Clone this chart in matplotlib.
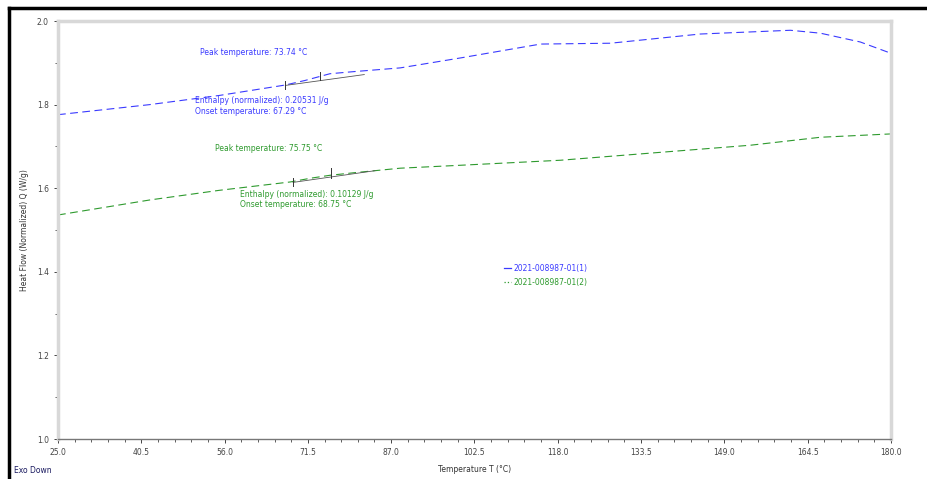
import matplotlib.pyplot as plt
from matplotlib.lines import Line2D
from matplotlib.ticker import AutoMinorLocator

# curve data
temp1 = [25.0, 42.0, 55.0, 67.3, 71.0, 75.6, 80.0, 88.7, 100.0, 114.8, 127.8, 144.5, 161.3, 166.9, 174.3, 180.0]
flow1 = [1.776, 1.800, 1.822, 1.847, 1.858, 1.874, 1.879, 1.888, 1.912, 1.945, 1.947, 1.969, 1.978, 1.971, 1.950, 1.923]
temp2 = [25.0, 42.1, 55.0, 68.2, 72.0, 75.6, 80.0, 88.7, 99.9, 118.5, 135.2, 153.9, 166.9, 180.0]
flow2 = [1.536, 1.572, 1.595, 1.615, 1.624, 1.631, 1.637, 1.648, 1.655, 1.667, 1.684, 1.703, 1.722, 1.730]

labels = ['2021-008987-01(1)', '2021-008987-01(2)']
colors = ['#3a3aff', '#2e9a2e']

x_ticks = [25.0, 40.5, 56.0, 71.5, 87.0, 102.5, 118.0, 133.5, 149.0, 164.5, 180.0]
y_ticks = [1.0, 1.2, 1.4, 1.6, 1.8, 2.0]

fig = plt.figure(figsize=(9.28, 4.79), dpi=100)
ax = fig.add_axes([0.0625, 0.0835, 0.8975, 0.8725])

ax.plot(temp1, flow1, color=colors[0], lw=0.8, dashes=(7, 4), label=labels[0])
ax.plot(temp2, flow2, color=colors[1], lw=0.8, dashes=(7, 4), label=labels[1])

# integration baselines and markers
ax.plot([67.3, 82.0], [1.846, 1.872], color='#555555', lw=0.6)
ax.plot([67.29, 67.29], [1.838, 1.856], color='#333333', lw=0.7)
ax.plot([73.74, 73.74], [1.858, 1.878], color='#333333', lw=0.7)
ax.plot([68.75, 84.0], [1.614, 1.642], color='#555555', lw=0.6)
ax.plot([68.75, 68.75], [1.606, 1.624], color='#333333', lw=0.7)
ax.plot([75.75, 75.75], [1.624, 1.648], color='#333333', lw=0.7)

fs = 5.5
ax.text(51.5, 1.918, 'Peak temperature: 73.74 °C', color=colors[0], fontsize=fs)
ax.text(50.5, 1.803, 'Enthalpy (normalized): 0.20531 J/g', color=colors[0], fontsize=fs)
ax.text(50.5, 1.777, 'Onset temperature: 67.29 °C', color=colors[0], fontsize=fs)
ax.text(54.3, 1.690, 'Peak temperature: 75.75 °C', color=colors[1], fontsize=fs)
ax.text(58.9, 1.580, 'Enthalpy (normalized): 0.10129 J/g', color=colors[1], fontsize=fs)
ax.text(58.9, 1.554, 'Onset temperature: 68.75 °C', color=colors[1], fontsize=fs)

handles = [Line2D([], [], color=colors[0], lw=0.9),
           Line2D([], [], color=colors[1], lw=0.9, ls=':')]
leg = ax.legend(handles, labels, loc='upper left', bbox_to_anchor=(0.527, 0.435),
                frameon=False, fontsize=fs, handlelength=1.0, handletextpad=0.3,
                labelspacing=0.6)
for t, c in zip(leg.get_texts(), colors):
    t.set_color(c)

ax.set_xlim(25.0, 180.0)
ax.set_ylim(1.0, 2.0)
ax.set_xticks(x_ticks)
ax.set_xticklabels([f'{v:.1f}' for v in x_ticks])
ax.set_yticks(y_ticks)
ax.set_yticklabels([f'{v:.1f}' for v in y_ticks])
ax.xaxis.set_minor_locator(AutoMinorLocator(5))
ax.yaxis.set_minor_locator(AutoMinorLocator(2))
ax.tick_params(axis='both', labelsize=5.5, colors='#444444', length=3, width=0.7)
ax.tick_params(axis='both', which='minor', length=2, width=0.6, colors='#444444')

for side in ['left', 'top', 'right']:
    ax.spines[side].set_color('#d8d8d8')
    ax.spines[side].set_linewidth(2.5)
ax.spines['bottom'].set_color('#777777')
ax.spines['bottom'].set_linewidth(1.0)

ax.set_xlabel('Temperature T (°C)', fontsize=5.5, color='#333333', labelpad=6)
ax.set_ylabel('Heat Flow (Normalized) Q (W/g)', fontsize=5.5, color='#333333', labelpad=6)
fig.text(0.015, 0.012, 'Exo Down', fontsize=5.5, color='#1a1a60')

# outer frame
fig.add_artist(Line2D([0.0097, 0.0097], [0.0, 0.983], color='black', lw=2.5, transform=fig.transFigure))
fig.add_artist(Line2D([0.0097, 1.0], [0.983, 0.983], color='black', lw=2.5, transform=fig.transFigure))

fig.savefig('out.png', dpi=100)
